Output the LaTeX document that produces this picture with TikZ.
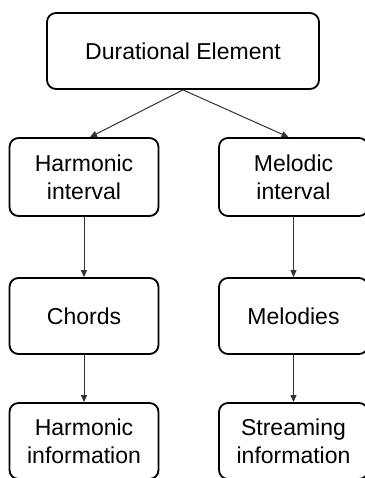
\documentclass[tikz,border=0pt]{standalone}
\usepackage{fontspec}
\setmainfont{Liberation Sans}
\usetikzlibrary{arrows.meta,calc}
\begin{document}
\begin{tikzpicture}[x=1pt,y=-1pt,
  box/.style={draw=black,line width=1.8pt,rounded corners=9pt,align=center,
    inner sep=0pt,font=\fontsize{23}{28}\selectfont},
  conn/.style={draw=black!80,line width=1pt,-{Triangle[length=7pt,width=6pt]}}]
\useasboundingbox (0,0) rectangle (364,478);
\fill[white] (0,0) rectangle (364,478);
\node[box,minimum width=272pt,minimum height=76pt] (top) at (183,51) {Durational Element};
\node[box,minimum width=149pt,minimum height=78pt] (hi) at (84,177) {Harmonic\\interval};
\node[box,minimum width=149pt,minimum height=78pt] (mi) at (293.5,177) {Melodic\\interval};
\node[box,minimum width=149pt,minimum height=76pt] (ch) at (84,316) {Chords};
\node[box,minimum width=149pt,minimum height=76pt] (me) at (293.5,316) {Melodies};
\node[box,minimum width=149pt,minimum height=76pt] (hinf) at (84,441) {Harmonic\\information};
\node[box,minimum width=149pt,minimum height=76pt] (sinf) at (293.5,441) {Streaming\\information};
\draw[conn] (top.south) -- ($(hi.north)+(6,0)$);
\draw[conn] (top.south) -- ($(mi.north)+(-5,0)$);
\draw[conn] (hi.south) -- (ch.north);
\draw[conn] (mi.south) -- (me.north);
\draw[conn] (ch.south) -- (hinf.north);
\draw[conn] (me.south) -- (sinf.north);
\end{tikzpicture}
\end{document}
